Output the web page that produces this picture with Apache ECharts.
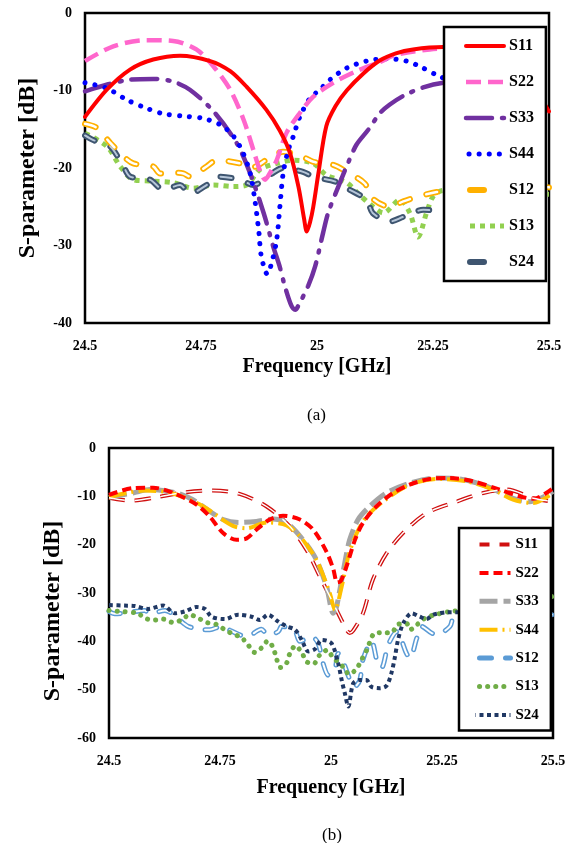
<!DOCTYPE html>
<html><head><meta charset="utf-8">
<script src="https://cdn.jsdelivr.net/npm/echarts/dist/echarts.min.js"></script>
<style>html,body{margin:0;padding:0;background:#fff}#c{width:577px;height:843px}</style>
</head><body><div id="c"></div><script>
// ---------- shared ----------
var freqTicks = [24.5, 24.75, 25, 25.25, 25.5];
var legendNames = ['S11', 'S22', 'S33', 'S44', 'S12', 'S13', 'S24'];

// ---------- (a) top chart: [GHz, dB] ----------
var a_S11 = [[24.5,-13.4],[24.547,-9.9],[24.597,-7.3],[24.647,-6.0],[24.705,-5.5],[24.77,-6.2],[24.813,-7.5],[24.848,-9.5],[24.891,-12.5],[24.92,-15.2],[24.942,-18.1],[24.96,-22.4],[24.972,-26.5],[24.978,-28.2],[24.985,-27],[24.992,-25],[25.003,-20.7],[25.02,-14.6],[25.04,-12],[25.064,-10],[25.1,-7.8],[25.136,-6.1],[25.17,-5.2],[25.207,-4.7],[25.272,-4.4],[25.33,-4.4],[25.39,-5.6],[25.45,-8.3],[25.5,-12.7]];
var a_S22 = [[24.5,-6.2],[24.561,-4.3],[24.633,-3.5],[24.69,-3.6],[24.74,-4.7],[24.777,-6.9],[24.813,-9.9],[24.842,-13.8],[24.863,-17.7],[24.878,-20.5],[24.888,-21.5],[24.9,-20.5],[24.913,-19],[24.934,-15.5],[24.963,-12.9],[24.992,-10.8],[25.035,-9.0],[25.085,-7.5],[25.136,-6.3],[25.17,-5.4],[25.243,-4.7],[25.3,-4.5],[25.38,-5.0],[25.45,-6.0],[25.5,-7.3]];
var a_S33 = [[24.5,-10.1],[24.55,-9.2],[24.597,-8.6],[24.647,-8.5],[24.687,-8.8],[24.726,-9.9],[24.777,-12.7],[24.827,-16.8],[24.856,-20.7],[24.885,-25.8],[24.906,-30.2],[24.919,-32.6],[24.931,-35.3],[24.945,-37.8],[24.953,-38.3],[24.962,-37.5],[24.981,-35.2],[24.996,-32.7],[25.013,-28.4],[25.024,-25.8],[25.046,-22.4],[25.068,-19.2],[25.085,-17],[25.11,-15.1],[25.136,-12.9],[25.157,-11.8],[25.189,-10.6],[25.229,-9.6],[25.272,-9.0],[25.35,-8.6],[25.43,-8.6],[25.5,-8.8]];
var a_S44 = [[24.5,-9.0],[24.547,-9.7],[24.59,-11.2],[24.633,-12.3],[24.669,-13.0],[24.712,-13.3],[24.755,-13.6],[24.791,-14.4],[24.82,-15.9],[24.841,-18.1],[24.856,-20.7],[24.866,-24.1],[24.875,-28.4],[24.88,-31.4],[24.893,-33.7],[24.902,-32.3],[24.913,-29.3],[24.92,-25],[24.927,-20.7],[24.938,-17.7],[24.949,-15.9],[24.963,-13.4],[24.985,-11],[25.006,-9.9],[25.028,-8.6],[25.064,-7.1],[25.107,-6.2],[25.15,-5.9],[25.193,-6.2],[25.222,-6.9],[25.258,-8.0],[25.3,-9.0],[25.36,-9.3],[25.42,-8.0],[25.47,-6.0],[25.5,-4.7]];
var a_S12 = [[24.5,-14.3],[24.525,-14.8],[24.555,-16.8],[24.583,-18.5],[24.604,-19.4],[24.647,-19.8],[24.662,-20.7],[24.69,-20.6],[24.712,-20.7],[24.726,-21.1],[24.762,-19.8],[24.784,-19],[24.834,-19.4],[24.856,-20.0],[24.898,-18.7],[24.927,-17.9],[24.967,-18.5],[24.992,-19.2],[25.035,-19.6],[25.064,-20.5],[25.103,-22],[25.121,-24],[25.157,-25],[25.186,-24.3],[25.229,-23.5],[25.258,-23.1],[25.32,-22.6],[25.4,-22.3],[25.5,-22.5]];
var a_S13 = [[24.5,-15.5],[24.547,-17.2],[24.576,-19.8],[24.604,-21.5],[24.647,-21.7],[24.69,-21.9],[24.733,-22.6],[24.777,-22.2],[24.82,-22.4],[24.848,-22.2],[24.877,-20.2],[24.913,-19.4],[24.949,-19],[24.992,-19.4],[25.02,-20.9],[25.064,-21.9],[25.092,-23.5],[25.121,-25],[25.143,-25.8],[25.179,-24.1],[25.2,-25.8],[25.218,-28.9],[25.236,-25.8],[25.25,-23.7],[25.272,-22.9],[25.35,-23],[25.43,-23.3],[25.5,-23.4]];
var a_S24 = [[24.5,-15.8],[24.518,-16.4],[24.554,-17.2],[24.583,-19.8],[24.597,-21.1],[24.64,-21.5],[24.669,-22.8],[24.705,-22.2],[24.726,-23.3],[24.762,-22.2],[24.784,-21.1],[24.834,-21.5],[24.863,-22.2],[24.898,-20.9],[24.927,-20.0],[24.97,-20.5],[24.992,-21.1],[25.042,-21.8],[25.064,-22.6],[25.107,-24.1],[25.12,-25.8],[25.157,-26.9],[25.186,-26.3],[25.229,-25.4],[25.265,-25.5],[25.35,-25.2],[25.43,-25],[25.5,-25]];

// ---------- (b) bottom chart: [GHz, dB] ----------
var b_S11 = [[24.5,-10.3],[24.55,-10.9],[24.607,-10.2],[24.667,-9.2],[24.734,-8.8],[24.794,-9.5],[24.855,-12.1],[24.907,-16.2],[24.945,-21.1],[24.975,-26.6],[25.005,-32.1],[25.035,-37.6],[25.042,-38.3],[25.05,-37.8],[25.072,-34.2],[25.094,-27.3],[25.125,-21.8],[25.162,-17.6],[25.215,-13.5],[25.283,-11.1],[25.343,-9.3],[25.396,-8.6],[25.456,-10.4],[25.5,-11.1]];
var b_S22 = [[24.5,-9.7],[24.554,-8.3],[24.599,-8.2],[24.644,-9.3],[24.697,-11.7],[24.727,-14.2],[24.757,-17.6],[24.787,-19],[24.81,-18.7],[24.832,-16.9],[24.862,-14.8],[24.892,-14],[24.93,-14.8],[24.96,-16.9],[24.99,-21.5],[25.005,-25],[25.014,-27.8],[25.022,-27.5],[25.035,-24.5],[25.054,-19],[25.072,-15.5],[25.102,-12.1],[25.14,-9.3],[25.177,-7.6],[25.222,-6.4],[25.268,-6.2],[25.32,-6.9],[25.38,-8.6],[25.425,-10],[25.456,-10.5],[25.5,-8.3]];
var b_S33 = [[24.5,-10.2],[24.554,-9.3],[24.592,-8.6],[24.652,-9.3],[24.689,-10.7],[24.727,-13.1],[24.757,-14.8],[24.794,-15.4],[24.832,-15.2],[24.87,-14.7],[24.9,-15.5],[24.937,-19],[24.967,-23.1],[24.99,-28.7],[25.005,-34.2],[25.012,-33],[25.02,-29.3],[25.031,-23.8],[25.042,-19],[25.061,-14.8],[25.087,-12.1],[25.125,-9.3],[25.177,-7.3],[25.237,-6.2],[25.29,-6.4],[25.35,-7.9],[25.41,-10.4],[25.448,-11.1],[25.5,-9.0]];
var b_S44 = [[24.5,-10.2],[24.539,-9.3],[24.58,-8.8],[24.64,-9.3],[24.705,-11.7],[24.734,-13.4],[24.779,-16.1],[24.81,-16.6],[24.855,-15.4],[24.9,-16.0],[24.93,-18.3],[24.967,-23.1],[24.997,-30],[25.009,-33.5],[25.024,-28.7],[25.039,-22.4],[25.058,-17.6],[25.08,-14.2],[25.117,-11.1],[25.177,-7.6],[25.245,-6.4],[25.305,-6.9],[25.365,-8.6],[25.41,-10.7],[25.456,-11.4],[25.5,-9.3]];
var b_S12 = [[24.5,-33.8],[24.513,-34.3],[24.545,-34.0],[24.58,-33.6],[24.592,-34.3],[24.626,-33.6],[24.667,-36.2],[24.678,-36.9],[24.708,-37.6],[24.727,-37.6],[24.753,-36.9],[24.772,-37.7],[24.806,-38.9],[24.817,-38.8],[24.843,-37.5],[24.858,-38.7],[24.881,-38.0],[24.889,-36.9],[24.919,-38.0],[24.93,-40.0],[24.956,-39.0],[24.971,-40.4],[24.982,-44.5],[24.994,-47.0],[25.009,-45.6],[25.016,-42.5],[25.024,-43.5],[25.054,-49.4],[25.065,-48],[25.072,-43.8],[25.091,-40.0],[25.106,-44.9],[25.114,-45.4],[25.129,-40.7],[25.148,-38.0],[25.17,-42.5],[25.178,-43.5],[25.193,-39.4],[25.204,-36.9],[25.227,-38.3],[25.238,-38.6],[25.268,-36.9],[25.279,-34.5],[25.35,-34.5],[25.45,-34.5],[25.5,-34.5]];
var b_S13 = [[24.5,-33.6],[24.522,-33.8],[24.565,-34.2],[24.58,-35.2],[24.603,-35.6],[24.622,-35.4],[24.644,-36.1],[24.663,-35.6],[24.682,-34.5],[24.701,-35.2],[24.72,-36.1],[24.742,-36.5],[24.761,-37.6],[24.779,-38.5],[24.798,-39.2],[24.813,-40.7],[24.828,-42.3],[24.843,-41.4],[24.858,-39.9],[24.87,-41.4],[24.877,-43.5],[24.886,-45.4],[24.9,-44.5],[24.907,-42.6],[24.92,-40.9],[24.934,-42.3],[24.945,-44.2],[24.96,-44.7],[24.975,-42.8],[24.992,-41.8],[25.005,-43.5],[25.02,-44.5],[25.042,-46.8],[25.058,-45.6],[25.069,-43.8],[25.08,-41.9],[25.099,-38.3],[25.118,-38.2],[25.136,-38.2],[25.151,-36.5],[25.17,-36.3],[25.178,-37.6],[25.193,-36.6],[25.212,-35.2],[25.234,-34.5],[25.272,-33.8],[25.35,-33],[25.45,-31.5],[25.5,-30.7]];
var b_S24 = [[24.5,-32.5],[24.535,-32.6],[24.558,-32.7],[24.588,-33.3],[24.622,-32.6],[24.648,-34.2],[24.671,-33.8],[24.697,-32.9],[24.716,-33.3],[24.731,-34.9],[24.761,-35.4],[24.791,-34.5],[24.821,-34.9],[24.84,-35.6],[24.858,-34.5],[24.881,-35.9],[24.9,-36.9],[24.919,-37.6],[24.934,-39.7],[24.949,-42.1],[24.964,-41.6],[24.979,-39.7],[25.001,-40.4],[25.016,-44.5],[25.024,-48],[25.031,-50.7],[25.039,-53.5],[25.05,-48.7],[25.065,-48],[25.08,-48],[25.091,-49.4],[25.11,-49.7],[25.125,-49.2],[25.136,-46.6],[25.144,-43.2],[25.151,-39.7],[25.163,-36.2],[25.182,-34.2],[25.2,-34.9],[25.215,-35.4],[25.23,-34.5],[25.245,-34.2],[25.26,-34.0],[25.3,-34],[25.4,-34.5],[25.5,-34.9]];

var FONT = '"Liberation Serif", "Times New Roman", serif';

function ln(name, data, gi, color, width, dash, cap, z) {
  return {
    name: name, type: 'line', data: data, xAxisIndex: gi, yAxisIndex: gi,
    symbol: 'none', showSymbol: false, smooth: 0.3, z: z || 2,
    itemStyle: { color: color },
    lineStyle: { color: color, width: width, type: dash, cap: cap || 'butt' },
    silent: true, animation: false
  };
}

var series = [
  // top chart
  ln('S13', a_S13, 0, '#92D050', 5, [5, 5], 'butt'),
  ln('S24', a_S24, 0, '#3E5570', 6, [11, 17], 'round'),
  ln('S24in', a_S24, 0, '#B6C6D9', 2, [11, 17], 'round', 3),
  ln('S12', a_S12, 0, '#FFB000', 6, [11, 17], 'round'),
  ln('S12in', a_S12, 0, '#FFFFFF', 2.5, [11, 17], 'round', 3),
  ln('S33', a_S33, 0, '#7030A0', 4.5, [26, 10, 2, 10], 'round', 4),
  ln('S44', a_S44, 0, '#0000FF', 5, [0.1, 10], 'round', 4),
  ln('S22', a_S22, 0, '#FF66CC', 4.5, [15, 7], 'butt', 4),
  ln('S11', a_S11, 0, '#FF0000', 4, 'solid', 'round', 5),
  // bottom chart (names suffixed with "b" so the second legend finds them)
  ln('S12b', b_S12, 1, '#5B9BD5', 5, [12, 14], 'round'),
  ln('S12in_b', b_S12, 1, '#FFFFFF', 2, [12, 14], 'round', 3),
  ln('S13b', b_S13, 1, '#70AD47', 5, [0.1, 8], 'round', 3),
  ln('S24b', b_S24, 1, '#203864', 4, [4, 3.5], 'butt', 3),
  ln('S11b', b_S11, 1, '#D01010', 4, [16, 10], 'butt', 4),
  ln('S11in_b', b_S11, 1, '#FFFFFF', 1.4, [16, 10], 'butt', 5),
  ln('S33b', b_S33, 1, '#A5A5A5', 5, [18, 6], 'butt', 4),
  ln('S44b', b_S44, 1, '#FFC000', 4, [18, 5, 2, 5], 'butt', 4),
  ln('S22b', b_S22, 1, '#FF0000', 4, [9, 5], 'butt', 4)
];

var axisLbl = { color: '#000', fontFamily: FONT, fontWeight: 'bold', fontSize: 14 };
var nameTS = { color: '#000', fontFamily: FONT, fontWeight: 'bold', fontSize: 20 };
var yNameTS = { color: '#000', fontFamily: FONT, fontWeight: 'bold', fontSize: 24 };

function xAx(gi, gap) {
  return { type: 'value', gridIndex: gi, min: 24.5, max: 25.5, interval: 0.25,
    axisLine: { show: false }, axisTick: { show: false }, splitLine: { show: false },
    axisLabel: Object.assign({ margin: 16 }, axisLbl),
    name: 'Frequency [GHz]', nameLocation: 'middle', nameGap: gap, nameTextStyle: nameTS };
}
function yAx(gi, min, gap, pad) {
  return { type: 'value', gridIndex: gi, min: min, max: 0, interval: 10,
    axisLine: { show: false }, axisTick: { show: false }, splitLine: { show: false },
    axisLabel: Object.assign({ margin: 13 }, axisLbl),
    name: 'S-parameter [dB]', nameLocation: 'middle', nameGap: gap,
    nameTextStyle: Object.assign({ padding: pad }, yNameTS) };
}

function legendData(suffix, list) {
  return legendNames.map(function (n) {
    var o = { name: n + suffix };
    if (list[n]) o.lineStyle = list[n];
    return o;
  });
}

var option = {
  backgroundColor: '#fff',
  animation: false,
  title: [
    { text: '(a)', left: 302, top: 402, textStyle: { fontFamily: FONT, fontWeight: 'normal', fontSize: 17, color: '#000' } },
    { text: '(b)', left: 317, top: 822, textStyle: { fontFamily: FONT, fontWeight: 'normal', fontSize: 17, color: '#000' } }
  ],
  grid: [
    { left: 85, top: 13, width: 464, height: 310, show: true, borderColor: '#000', borderWidth: 2.5, backgroundColor: 'transparent' },
    { left: 109, top: 448, width: 444, height: 290, show: true, borderColor: '#000', borderWidth: 2.5, backgroundColor: 'transparent' }
  ],
  xAxis: [xAx(0, 34), xAx(1, 40)],
  yAxis: [yAx(0, -40, 45, [0, 0, 0, 0]), yAx(1, -60, 44, [0, 36, 0, 0])],
  legend: [
    {
      left: 444, top: 27, orient: 'vertical', itemWidth: 38, itemHeight: 14, itemGap: 20,
      padding: [11, 12, 11, 19], backgroundColor: '#fff', borderColor: '#000', borderWidth: 2.5,
      textStyle: { fontFamily: FONT, fontWeight: 'bold', fontSize: 16, color: '#000' },
      itemStyle: { opacity: 0 },
      lineStyle: { width: 'inherit' }, selectedMode: false, z: 10,
      data: legendData('', { S12: { type: [14, 100], width: 6, cap: 'round', dashOffset: -4 }, S24: { type: [14, 100], width: 6, cap: 'round', dashOffset: -4 }, S44: { type: [0.1, 10], dashOffset: -3 } })
    },
    {
      left: 459, top: 528, orient: 'vertical', itemWidth: 35, itemHeight: 12, itemGap: 13.4,
      padding: [9, 12, 8, 14], backgroundColor: '#fff', borderColor: '#000', borderWidth: 2.5,
      textStyle: { fontFamily: FONT, fontWeight: 'bold', fontSize: 15, color: '#000' },
      itemStyle: { opacity: 0 },
      formatter: function (n) { return n.slice(0, 3); },
      lineStyle: { width: 'inherit' }, selectedMode: false, z: 10,
      data: legendData('b', { S11: { type: [10, 10], width: 4 } })
    }
  ],
  series: series
};
var chart = echarts.init(document.getElementById('c'), null, { renderer: 'canvas' });
chart.setOption(option);
</script></body></html>
